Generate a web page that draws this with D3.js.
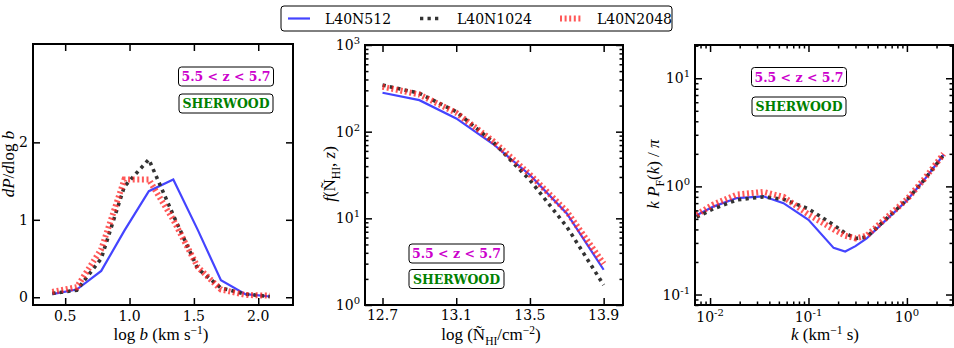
<!DOCTYPE html>
<html>
<head>
<meta charset="utf-8">
<script src="https://cdn.jsdelivr.net/npm/d3@7"></script>
<style>
  body { margin: 0; background: #fff; }
  svg text { font-family: "DejaVu Serif", serif; }
</style>
</head>
<body>
<div id="chart"></div>
<script>
// ---- data ----
var seriesNames = ["L40N512", "L40N1024", "L40N2048"];

// panel 1 : b-parameter distribution
var logB = [0.40, 0.59, 0.78, 0.96, 1.15, 1.34, 1.53, 1.71, 1.90, 2.09];
var dpdb512 = [0.04, 0.10, 0.34, 0.86, 1.37, 1.52, 0.87, 0.22, 0.04, 0.01];
var dpdb1024 = [0.05, 0.09, 0.50, 1.43, 1.78, 1.06, 0.37, 0.12, 0.04, 0.01];
var dpdb2048 = [0.07, 0.13, 0.62, 1.52, 1.52, 1.00, 0.39, 0.10, 0.03, 0.02];

// panel 2 : column density distribution
var logN = [12.7, 12.9, 13.1, 13.3, 13.5, 13.7, 13.9];
var fN512 = [281, 231, 142, 72, 31.6, 11.4, 2.55];
var fN1024 = [345, 277, 170, 76, 27.6, 8.0, 1.7];
var fN2048 = [330, 268, 165, 78, 32, 12, 3.0];

// panel 3 : flux power spectrum
var kVals = [0.0073, 0.0108, 0.0187, 0.0348, 0.0557, 0.1, 0.18, 0.236, 0.3, 0.39, 0.6, 1.0, 1.5, 2.36];
var pk512 = [0.54, 0.65, 0.78, 0.81, 0.70, 0.49, 0.27, 0.25, 0.28, 0.33, 0.48, 0.74, 1.15, 1.96];
var pk1024 = [0.52, 0.62, 0.75, 0.80, 0.76, 0.62, 0.44, 0.37, 0.33, 0.34, 0.49, 0.75, 1.15, 1.95];
var pk2048 = [0.55, 0.68, 0.84, 0.89, 0.80, 0.55, 0.40, 0.35, 0.33, 0.35, 0.50, 0.76, 1.17, 2.0];

var bTicks = [0.5, 1.0, 1.5, 2.0];
var dpTicks = [0, 1, 2];
var nTicks = [12.7, 13.1, 13.5, 13.9];

var zLabel = "5.5 < z < 5.7";
var simLabel = "SHERWOOD";

// line styles
var styles = [
  {stroke: "#4444ff", width: 2.2, dash: null, opacity: 1},
  {stroke: "#333333", width: 3.6, dash: "3.3,4.2", opacity: 1},
  {stroke: "#ff2020", width: 6, dash: "2,2.6", opacity: 0.75}
];

var svg = d3.select("#chart").append("svg")
  .attr("width", 954).attr("height", 348);

// text with italic / sub / sup parts
function rich(text, parts, size) {
  var base = 0;
  parts.forEach(function(p) {
    var ts = text.append("tspan").text(p.t);
    var shift = p.s === "sup" ? -0.36 * size : p.s === "sub" ? 0.28 * size : 0;
    ts.attr("dy", shift - base);
    base = shift;
    if (p.s) ts.style("font-size", (size * 0.68) + "px");
    if (p.i) ts.style("font-style", "italic");
  });
}

function powLabel(g, x, y, exp, anchor) {
  var t = g.append("text").attr("x", x).attr("y", y)
    .attr("text-anchor", anchor).style("font-size", "14px");
  t.append("tspan").text("10");
  t.append("tspan").attr("dy", -6).style("font-size", "10px").text(exp);
  return t;
}

function frame(box) {
  svg.append("rect")
    .attr("x", box.x0).attr("y", box.y0)
    .attr("width", box.x1 - box.x0).attr("height", box.y1 - box.y0)
    .attr("fill", "none").attr("stroke", "#000").attr("stroke-width", 2);
}

function tickAxes(box, x, y, xMaj, yMaj, xMin, yMin) {
  var add = function(axis, tr) {
    var g = svg.append("g").attr("transform", tr).call(axis);
    g.select(".domain").remove();
    g.selectAll("line").attr("stroke", "#000").attr("stroke-width", 1.5);
    return g;
  };
  var bot = "translate(0," + box.y1 + ")", top = "translate(0," + box.y0 + ")";
  var lft = "translate(" + box.x0 + ",0)", rgt = "translate(" + box.x1 + ",0)";
  add(d3.axisBottom(x).tickValues(xMaj).tickSize(-7).tickFormat(""), bot);
  add(d3.axisTop(x).tickValues(xMaj).tickSize(-7).tickFormat(""), top);
  add(d3.axisLeft(y).tickValues(yMaj).tickSize(-7).tickFormat(""), lft);
  add(d3.axisRight(y).tickValues(yMaj).tickSize(-7).tickFormat(""), rgt);
  if (xMin) {
    add(d3.axisBottom(x).tickValues(xMin).tickSize(-3.5).tickFormat(""), bot);
    add(d3.axisTop(x).tickValues(xMin).tickSize(-3.5).tickFormat(""), top);
  }
  if (yMin) {
    add(d3.axisLeft(y).tickValues(yMin).tickSize(-3.5).tickFormat(""), lft);
    add(d3.axisRight(y).tickValues(yMin).tickSize(-3.5).tickFormat(""), rgt);
  }
}

function curves(box, x, y, xs, ys) {
  var clipId = "clip" + box.x0;
  svg.append("clipPath").attr("id", clipId).append("rect")
    .attr("x", box.x0).attr("y", box.y0)
    .attr("width", box.x1 - box.x0).attr("height", box.y1 - box.y0);
  var g = svg.append("g").attr("clip-path", "url(#" + clipId + ")");
  var line = d3.line().x(function(d) { return x(d[0]); }).y(function(d) { return y(d[1]); });
  ys.forEach(function(vals, i) {
    var st = styles[i];
    g.append("path")
      .datum(xs.map(function(v, j) { return [v, vals[j]]; }))
      .attr("fill", "none")
      .attr("stroke", st.stroke)
      .attr("stroke-width", st.width)
      .attr("stroke-dasharray", st.dash)
      .attr("stroke-linejoin", "miter")
      .attr("opacity", st.opacity)
      .attr("d", line);
  });
}

function tag(cx, cy, w, label, color) {
  svg.append("rect")
    .attr("x", cx - w / 2).attr("y", cy - 9.5)
    .attr("width", w).attr("height", 19)
    .attr("rx", 3).attr("fill", "#fff")
    .attr("stroke", "#000").attr("stroke-width", 1);
  svg.append("text")
    .attr("x", cx).attr("y", cy + 4.5)
    .attr("text-anchor", "middle")
    .style("font-size", "12.5px").style("font-weight", "bold")
    .style("fill", color)
    .text(label);
}

function ylab(x, y, parts) {
  var t = svg.append("text")
    .attr("transform", "translate(" + x + "," + y + ") rotate(-90)")
    .attr("text-anchor", "middle")
    .style("font-family", "'Liberation Serif', serif")
    .style("font-size", "17px");
  rich(t, parts, 17);
}

function xlab(x, y, parts) {
  var t = svg.append("text").attr("x", x).attr("y", y)
    .attr("text-anchor", "middle")
    .style("font-family", "'Liberation Serif', serif")
    .style("font-size", "17px");
  rich(t, parts, 17);
}

// ---------- panel 1 ----------
var b1 = {x0: 33, x1: 293, y0: 44, y1: 305};
var x1s = d3.scaleLinear().domain([0.25, 2.27]).range([b1.x0, b1.x1]);
var y1s = d3.scaleLinear().domain([-0.1, 3.27]).range([b1.y1, b1.y0]);
curves(b1, x1s, y1s, logB, [dpdb512, dpdb1024, dpdb2048]);
tickAxes(b1, x1s, y1s, bTicks, dpTicks);
frame(b1);
bTicks.forEach(function(v) {
  svg.append("text").attr("x", x1s(v)).attr("y", 321)
    .attr("text-anchor", "middle").style("font-size", "14px").text(d3.format(".1f")(v));
});
dpTicks.forEach(function(v) {
  svg.append("text").attr("x", 28).attr("y", y1s(v) + 5)
    .attr("text-anchor", "end").style("font-size", "14px").text(v);
});
ylab(14, 164, [{t: "dP", i: 1}, {t: "/"}, {t: "d", i: 1}, {t: "log "}, {t: "b", i: 1}]);
xlab(161, 340, [{t: "log "}, {t: "b", i: 1}, {t: " (km s"}, {t: "−1", s: "sup"}, {t: ")"}]);
tag(226, 76.5, 95, zLabel, "#cc00cc");
tag(226, 103.5, 94, simLabel, "#008000");

// ---------- panel 2 ----------
var b2 = {x0: 365, x1: 623, y0: 45, y1: 305};
var x2s = d3.scaleLinear().domain([12.605, 14.005]).range([b2.x0, b2.x1]);
var y2s = d3.scaleLog().domain([1, 1000]).range([b2.y1, b2.y0]);
var y2all = y2s.ticks();
var y2maj = y2all.filter(function(v) { return Math.abs(Math.log10(v) - Math.round(Math.log10(v))) < 1e-9; });
var y2min = y2all.filter(function(v) { return y2maj.indexOf(v) < 0; });
curves(b2, x2s, y2s, logN, [fN512, fN1024, fN2048]);
tickAxes(b2, x2s, y2s, nTicks, y2maj, null, y2min);
frame(b2);
nTicks.forEach(function(v) {
  svg.append("text").attr("x", x2s(v)).attr("y", 320)
    .attr("text-anchor", "middle").style("font-size", "14px").text(d3.format(".1f")(v));
});
y2maj.forEach(function(v) {
  powLabel(svg, 360, y2s(v) + 5, Math.round(Math.log10(v)), "end");
});
ylab(335, 174, [{t: "f", i: 1}, {t: "(Ñ"}, {t: "HI", s: "sub"}, {t: ", "}, {t: "z", i: 1}, {t: ")"}]);
xlab(491, 340, [{t: "log (Ñ"}, {t: "HI", s: "sub"}, {t: "/cm"}, {t: "−2", s: "sup"}, {t: ")"}]);
tag(456.5, 253.5, 95, zLabel, "#cc00cc");
tag(456.5, 279, 95, simLabel, "#008000");

// ---------- panel 3 ----------
var b3 = {x0: 695, x1: 953, y0: 45, y1: 305};
var x3s = d3.scaleLog().domain([0.00703, 2.94]).range([b3.x0, b3.x1]);
var y3s = d3.scaleLog().domain([0.08, 20.3]).range([b3.y1, b3.y0]);
function splitLog(all) {
  var maj = all.filter(function(v) { return Math.abs(Math.log10(v) - Math.round(Math.log10(v))) < 1e-9; });
  return [maj, all.filter(function(v) { return maj.indexOf(v) < 0; })];
}
var x3t = splitLog(x3s.ticks()), y3t = splitLog(y3s.ticks());
curves(b3, x3s, y3s, kVals, [pk512, pk1024, pk2048]);
tickAxes(b3, x3s, y3s, x3t[0], y3t[0], x3t[1], y3t[1]);
frame(b3);
x3t[0].forEach(function(v) {
  powLabel(svg, x3s(v), 322, Math.round(Math.log10(v)), "middle");
});
y3t[0].forEach(function(v) {
  powLabel(svg, 690, y3s(v) + 5, Math.round(Math.log10(v)), "end");
});
ylab(659, 174, [{t: "k", i: 1}, {t: " "}, {t: "P", i: 1}, {t: "F", s: "sub"}, {t: "("}, {t: "k", i: 1}, {t: ") / "}, {t: "π", i: 1}]);
xlab(825, 340, [{t: "k", i: 1}, {t: " (km"}, {t: "−1", s: "sup"}, {t: " s)"}]);
tag(799, 77, 95, zLabel, "#cc00cc");
tag(799, 106.5, 94, simLabel, "#008000");

// ---------- legend ----------
var lg = svg.append("g");
lg.append("rect").attr("x", 281).attr("y", 6).attr("width", 391).attr("height", 25)
  .attr("rx", 3).attr("fill", "#fff").attr("stroke", "#000").attr("stroke-width", 1);
var legX = [288, 420, 560];
seriesNames.forEach(function(name, i) {
  var st = styles[i];
  lg.append("line")
    .attr("x1", legX[i]).attr("x2", legX[i] + 22)
    .attr("y1", 18.5).attr("y2", 18.5)
    .attr("stroke", st.stroke).attr("stroke-width", st.width)
    .attr("stroke-dasharray", st.dash).attr("opacity", st.opacity);
  lg.append("text").attr("x", legX[i] + 37).attr("y", 23.5)
    .style("font-size", "14px").text(name);
});
</script>
</body>
</html>
